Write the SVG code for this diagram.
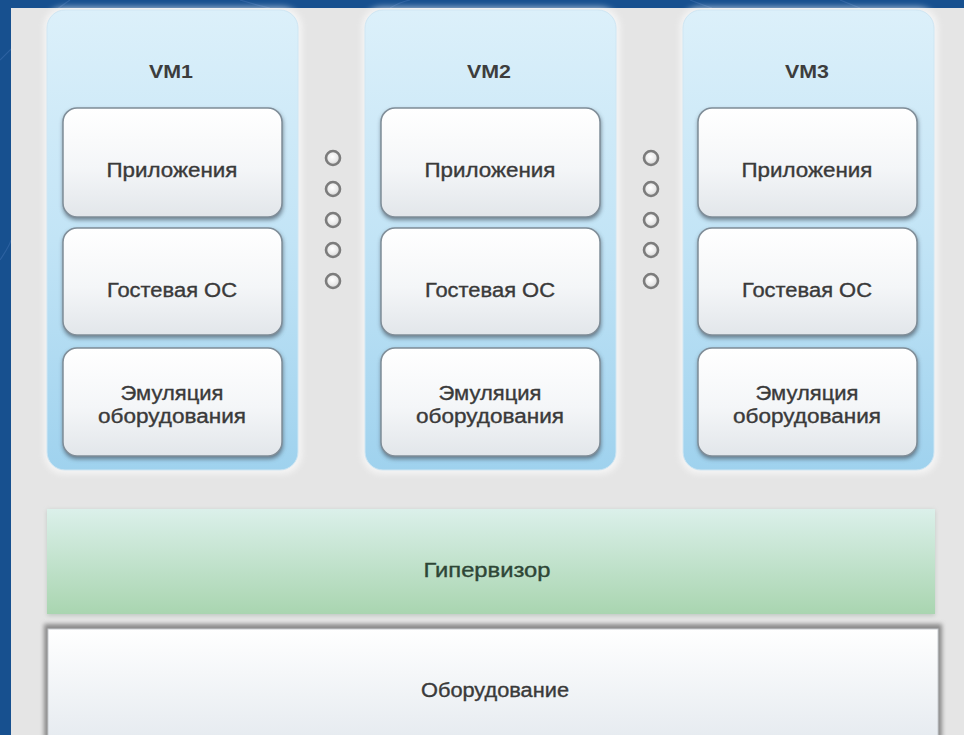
<svg xmlns="http://www.w3.org/2000/svg" width="964" height="735" viewBox="0 0 964 735">
<defs>
<linearGradient id="gCol" x1="0" y1="0" x2="0" y2="1">
<stop offset="0" stop-color="#dcf0fa"/>
<stop offset="0.5" stop-color="#c2e4f6"/>
<stop offset="1" stop-color="#9fd2ee"/>
</linearGradient>
<linearGradient id="gBox" x1="0" y1="0" x2="0" y2="1">
<stop offset="0" stop-color="#ffffff"/>
<stop offset="0.55" stop-color="#f4f6f8"/>
<stop offset="1" stop-color="#e2e6ea"/>
</linearGradient>
<linearGradient id="gHyp" x1="0" y1="0" x2="0" y2="1">
<stop offset="0" stop-color="#dbf0ea"/>
<stop offset="1" stop-color="#a9d5b0"/>
</linearGradient>
<linearGradient id="gHw" x1="0" y1="0" x2="0" y2="1">
<stop offset="0" stop-color="#ffffff"/>
<stop offset="1" stop-color="#e6ebf0"/>
</linearGradient>
<radialGradient id="gDot" cx="0.45" cy="0.4" r="0.6">
<stop offset="0" stop-color="#ffffff"/>
<stop offset="0.6" stop-color="#ebebeb"/>
<stop offset="1" stop-color="#cfcfcf"/>
</radialGradient>
<filter id="fSh" x="-10%" y="-10%" width="120%" height="125%">
<feGaussianBlur stdDeviation="2"/>
</filter>
<filter id="fGlow" x="-10%" y="-10%" width="120%" height="120%">
<feGaussianBlur stdDeviation="3"/>
</filter>
</defs>
<style>
.lbl{font-family:"Liberation Sans",Arial,sans-serif;font-size:20px;fill:#3a3a3a;stroke:#3a3a3a;stroke-width:0.35;text-anchor:middle}
.vm{font-family:"Liberation Sans",Arial,sans-serif;font-size:18px;font-weight:bold;fill:#3d3d3d;text-anchor:middle}
.box{fill:url(#gBox);stroke:#7f8d98;stroke-width:1.5}
.sh{fill:#4d5d6a;opacity:0.75}
.col{fill:url(#gCol);stroke:#cfe6f3;stroke-width:1}
.colGlow{fill:#ffffff;opacity:0.6}
.bgl{fill:none;stroke:#3a6cab;stroke-width:1.2;opacity:0.6}
.dot{fill:url(#gDot);stroke:#7c7c7c;stroke-width:2.6}
</style>
<!-- background -->
<rect x="0" y="0" width="964" height="735" fill="#17508f"/>
<path class="bgl" d="M0 60 Q40 20 70 0"/>
<path class="bgl" d="M0 260 Q10 245 11 240"/>
<path class="bgl" d="M240 0 Q260 6 270 8"/>
<path class="bgl" d="M390 8 Q400 2 410 0"/>
<path class="bgl" d="M690 0 Q700 4 712 8"/>
<path class="bgl" d="M840 0 L860 8"/>
<rect x="11" y="8" width="953" height="727" fill="#e5e5e5"/>

<g id="vm1">
<rect x="44" y="7" width="258" height="467" rx="20" class="colGlow" filter="url(#fGlow)"/>
<rect x="47" y="10" width="251" height="460" rx="18" class="col"/>
<text x="171" y="78" class="vm" textLength="44" lengthAdjust="spacingAndGlyphs">VM1</text>
</g>
<g id="vm1-apps">
<rect x="63" y="110" width="220" height="110" rx="14" class="sh" filter="url(#fSh)"/>
<rect x="63" y="108" width="219" height="109" rx="14" class="box"/>
<text x="172" y="177" class="lbl" textLength="131" lengthAdjust="spacingAndGlyphs">Приложения</text>
</g>
<g id="vm1-os">
<rect x="63" y="230" width="220" height="108" rx="14" class="sh" filter="url(#fSh)"/>
<rect x="63" y="228" width="219" height="107" rx="14" class="box"/>
<text x="172" y="297" class="lbl" textLength="130" lengthAdjust="spacingAndGlyphs">Гостевая ОС</text>
</g>
<g id="vm1-emu">
<rect x="63" y="350" width="220" height="109" rx="14" class="sh" filter="url(#fSh)"/>
<rect x="63" y="348" width="219" height="108" rx="14" class="box"/>
<text x="172" y="400" class="lbl" textLength="103" lengthAdjust="spacingAndGlyphs">Эмуляция</text>
<text x="172" y="423" class="lbl" textLength="148" lengthAdjust="spacingAndGlyphs">оборудования</text>
</g>

<g id="vm2">
<rect x="362" y="7" width="258" height="467" rx="20" class="colGlow" filter="url(#fGlow)"/>
<rect x="365" y="10" width="251" height="460" rx="18" class="col"/>
<text x="489" y="78" class="vm" textLength="44" lengthAdjust="spacingAndGlyphs">VM2</text>
</g>
<g id="vm2-apps">
<rect x="381" y="110" width="220" height="110" rx="14" class="sh" filter="url(#fSh)"/>
<rect x="381" y="108" width="219" height="109" rx="14" class="box"/>
<text x="490" y="177" class="lbl" textLength="131" lengthAdjust="spacingAndGlyphs">Приложения</text>
</g>
<g id="vm2-os">
<rect x="381" y="230" width="220" height="108" rx="14" class="sh" filter="url(#fSh)"/>
<rect x="381" y="228" width="219" height="107" rx="14" class="box"/>
<text x="490" y="297" class="lbl" textLength="130" lengthAdjust="spacingAndGlyphs">Гостевая ОС</text>
</g>
<g id="vm2-emu">
<rect x="381" y="350" width="220" height="109" rx="14" class="sh" filter="url(#fSh)"/>
<rect x="381" y="348" width="219" height="108" rx="14" class="box"/>
<text x="490" y="400" class="lbl" textLength="103" lengthAdjust="spacingAndGlyphs">Эмуляция</text>
<text x="490" y="423" class="lbl" textLength="148" lengthAdjust="spacingAndGlyphs">оборудования</text>
</g>

<g id="vm3">
<rect x="680" y="7" width="258" height="467" rx="20" class="colGlow" filter="url(#fGlow)"/>
<rect x="683" y="10" width="251" height="460" rx="18" class="col"/>
<text x="807" y="78" class="vm" textLength="44" lengthAdjust="spacingAndGlyphs">VM3</text>
</g>
<g id="vm3-apps">
<rect x="698" y="110" width="220" height="110" rx="14" class="sh" filter="url(#fSh)"/>
<rect x="698" y="108" width="219" height="109" rx="14" class="box"/>
<text x="807" y="177" class="lbl" textLength="131" lengthAdjust="spacingAndGlyphs">Приложения</text>
</g>
<g id="vm3-os">
<rect x="698" y="230" width="220" height="108" rx="14" class="sh" filter="url(#fSh)"/>
<rect x="698" y="228" width="219" height="107" rx="14" class="box"/>
<text x="807" y="297" class="lbl" textLength="130" lengthAdjust="spacingAndGlyphs">Гостевая ОС</text>
</g>
<g id="vm3-emu">
<rect x="698" y="350" width="220" height="109" rx="14" class="sh" filter="url(#fSh)"/>
<rect x="698" y="348" width="219" height="108" rx="14" class="box"/>
<text x="807" y="400" class="lbl" textLength="103" lengthAdjust="spacingAndGlyphs">Эмуляция</text>
<text x="807" y="423" class="lbl" textLength="148" lengthAdjust="spacingAndGlyphs">оборудования</text>
</g>

<g id="connectors">
<g id="dots1">
<circle cx="333" cy="158" r="7" class="dot"/>
<circle cx="333" cy="189" r="7" class="dot"/>
<circle cx="333" cy="220" r="7" class="dot"/>
<circle cx="333" cy="250" r="7" class="dot"/>
<circle cx="333" cy="281" r="7" class="dot"/>
</g>
<g id="dots2">
<circle cx="651" cy="158" r="7" class="dot"/>
<circle cx="651" cy="189" r="7" class="dot"/>
<circle cx="651" cy="220" r="7" class="dot"/>
<circle cx="651" cy="250" r="7" class="dot"/>
<circle cx="651" cy="281" r="7" class="dot"/>
</g>
</g>

<g id="hypervisor">
<rect x="47" y="510" width="888" height="106" fill="#a8b8ad" opacity="0.6" filter="url(#fSh)"/>
<rect x="47" y="509" width="888" height="105" fill="url(#gHyp)"/>
<text x="487" y="577" class="lbl" style="fill:#2e4636;stroke:#2e4636" textLength="127" lengthAdjust="spacingAndGlyphs">Гипервизор</text>
</g>

<g id="hardware">
<rect x="44" y="624" width="898" height="115" fill="#8a8a8a" filter="url(#fSh)"/>
<rect x="48" y="629" width="890" height="110" fill="url(#gHw)" stroke="#c8ccd0" stroke-width="1"/>
<text x="495" y="697" class="lbl" textLength="148" lengthAdjust="spacingAndGlyphs">Оборудование</text>
</g>
</svg>
